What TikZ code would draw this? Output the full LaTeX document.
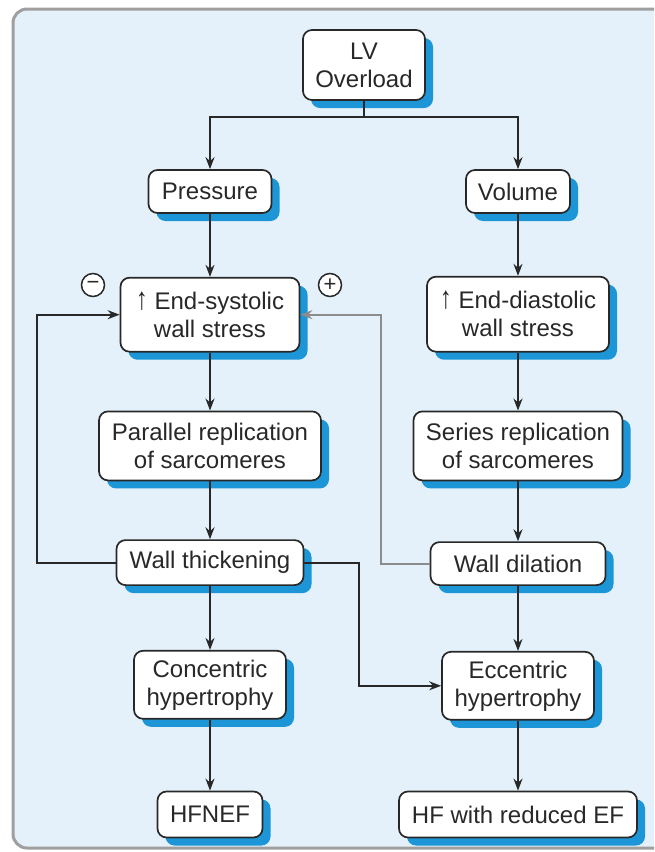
\documentclass[tikz,border=0pt]{standalone}
\usepackage{fontspec}
\setmainfont{Liberation Sans}
\usetikzlibrary{positioning,arrows.meta,shadows}
\definecolor{panelblue}{RGB}{228,241,250}
\definecolor{shadeblue}{RGB}{28,150,215}
\definecolor{inkgray}{RGB}{40,40,40}

\begin{document}
\begin{tikzpicture}[
  x=1pt, y=-1pt,
  >={Stealth[length=12pt,width=9pt]},
  box/.style={rectangle, rounded corners=9pt, draw=inkgray, line width=1.7pt, fill=white, align=center, text=inkgray, font=\fontsize{24}{28}\selectfont, inner sep=2pt, general shadow={fill=shadeblue, shadow xshift=8pt, shadow yshift=-8pt}},
  link/.style={draw=inkgray, line width=1.8pt},
  sign/.style={circle, draw=inkgray, line width=1.5pt, fill=white, minimum size=23pt, inner sep=0pt, text=inkgray, font=\fontsize{22}{22}\selectfont}
]
\useasboundingbox (0,0) rectangle (654,852);
\clip (0,0) rectangle (654,852);
\draw[draw=gray!75, line width=3pt, fill=panelblue, rounded corners=14pt] (13,9) rectangle (690,848);

\node[box, minimum width=122pt, minimum height=70pt] (lv) at (364,65) {LV\\Overload};
\node[box, minimum width=123pt, minimum height=43pt] (pres) at (210,191.5) {Pressure};
\node[box, minimum width=104pt, minimum height=43pt] (vol) at (518,191.5) {Volume};
% pressure side
\node[box, minimum width=179pt, minimum height=74pt, below=63pt of pres] (esws) {\scalebox{1}[1.3]{↑} End-systolic\\wall stress};
\node[box, minimum width=222pt, minimum height=69pt, below=58pt of esws] (par) {Parallel replication\\of sarcomeres};
\node[box, minimum width=187pt, minimum height=45pt, below=58pt of par] (wth) {Wall thickening};
\node[box, minimum width=152pt, minimum height=68pt, below=64pt of wth] (con) {Concentric\\hypertrophy};
\node[box, minimum width=105pt, minimum height=46pt, below=71pt of con] (hfnef) {HFNEF};
% volume side
\node[box, minimum width=182pt, minimum height=75pt, below=62pt of vol] (edws) {\scalebox{1}[1.3]{↑} End-diastolic\\wall stress};
\node[box, minimum width=209pt, minimum height=69pt, below=58pt of edws] (ser) {Series replication\\of sarcomeres};
\node[box, minimum width=175pt, minimum height=43pt, below=60pt of ser] (wdil) {Wall dilation};
\node[box, minimum width=152pt, minimum height=68pt, below=65pt of wdil] (ecc) {Eccentric\\hypertrophy};
\node[box, minimum width=238pt, minimum height=46pt, below=70pt of ecc] (hfred) {HF with reduced EF};

\node[sign] (minus) at (93,285) {−};
\node[sign] (plus) at (330,285) {+};

\coordinate (fork) at (364,117);
\draw[link] (lv.south) -- (fork);
\draw[link,->] (fork) -| (pres.north);
\draw[link,->] (fork) -| (vol.north);
\draw[link,->] (pres) -- (esws);
\draw[link,->] (esws) -- (par);
\draw[link,->] (par) -- (wth);
\draw[link,->] (wth) -- (con);
\draw[link,->] (con) -- (hfnef);
\draw[link,->] (vol) -- (edws);
\draw[link,->] (edws) -- (ser);
\draw[link,->] (ser) -- (wdil);
\draw[link,->] (wdil) -- (ecc);
\draw[link,->] (ecc) -- (hfred);
% feedback loops
\draw[link,->] (wth.west) -- ++(-79,0) |- (esws.west);
\draw[link,draw=gray!90,->] (wdil.west) -- ++(-49,0) |- (esws.east);
\draw[link,->] (wth.east) -- ++(55,0) |- (ecc.west);
\end{tikzpicture}
\end{document}
